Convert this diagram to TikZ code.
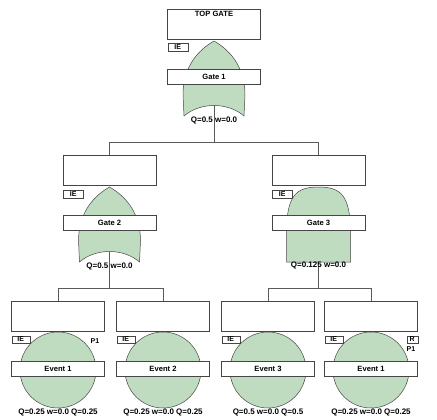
\documentclass[tikz,border=0pt]{standalone}
\usepackage{fontspec}
\setmainfont{Liberation Sans}
\definecolor{gfill}{HTML}{C0DCC0}
\definecolor{lcol}{HTML}{454545}
\begin{document}
\begin{tikzpicture}[x=1pt,y=-1pt,
  descbox/.style={draw=lcol, fill=white, line width=0.6pt, minimum width=93pt, minimum height=30pt, inner sep=0pt, anchor=north},
  labbox/.style={draw=lcol, fill=white, line width=0.6pt, minimum width=93pt, minimum height=15pt, inner sep=0pt, anchor=north, font=\fontsize{7.6}{9}\selectfont\bfseries},
  iebox/.style={draw=lcol, fill=white, line width=0.5pt, minimum width=20pt, minimum height=8pt, inner sep=0pt, anchor=north west, font=\fontsize{7}{7}\selectfont\bfseries},
  qlab/.style={font=\fontsize{8}{9}\selectfont\bfseries, inner sep=0pt},
  small/.style={font=\fontsize{7}{7}\selectfont\bfseries, inner sep=0pt},
  conn/.style={draw=black!65, line width=0.9pt},
  gshape/.style={fill=gfill, draw=lcol, line width=0.5pt},
  orgate/.pic={\path[gshape] (0,32) .. controls (-14,40) and (-31,56) .. (-31,86) -- (-30,107) .. controls (-14,93) and (14,93) .. (30,107) -- (31,86) .. controls (31,56) and (14,40) .. (0,32) -- cycle;},
  andgate/.pic={\path[gshape] (-32,107) -- (-32,78) .. controls (-32,40) and (-22,32) .. (0,32) .. controls (22,32) and (32,40) .. (32,78) -- (32,107) -- cycle;}
]
\useasboundingbox (0,0) rectangle (437,420);

% ---- top gate ----
\pic at (214,9) {orgate};
\node[descbox] (d1) at (214,9) {};
\node[font=\fontsize{7.6}{9}\selectfont\bfseries, anchor=north, inner sep=0pt] (t1) at (214,11) {TOP GATE};
\node[iebox] (ie1) at (167.5,43) {IE};
\node[labbox] (l1) at (214,69) {Gate 1};
\coordinate (g1out) at (214,105.5);

% ---- gate 2 ----
\pic at (109.5,155) {orgate};
\node[descbox] (d2) at (109.5,155) {};
\node[iebox] (ie2) at (63,190) {IE};
\node[labbox] (l2) at (109.5,215) {Gate 2};
\coordinate (g2out) at (109.5,251.5);

% ---- gate 3 ----
\pic at (318.5,155) {andgate};
\node[descbox] (d3) at (318.5,155) {};
\node[iebox] (ie3) at (272,190) {IE};
\node[labbox] (l3) at (318.5,215) {Gate 3};
\coordinate (g3out) at (318.5,262);

% ---- events ----
\foreach \cx/\nm/\lab in {58/e1/Event 1, 163/e2/Event 2, 268/e3/Event 3, 371/e4/Event 1}{
  \draw[gshape] (\cx,370) circle[radius=38pt];
  \node[descbox] (\nm) at (\cx,301) {};
  \node[iebox, minimum width=18pt, minimum height=7.5pt] (\nm ie) at (\cx-46.5,335.5) {IE};
  \node[labbox] (\nm l) at (\cx,361) {\lab};
}
\node[small] (p1a) at (95,341) {P1};
\node[iebox, minimum width=11pt, minimum height=7.5pt] (r4) at (406.5,335.5) {R};
\node[small] (p1b) at (411,349.5) {P1};

% ---- connectors ----
\coordinate (j1) at (214,142);
\coordinate (j2) at (109.5,288);
\coordinate (j3) at (318.5,288);
\draw[conn] (g1out) -- (j1);
\draw[conn] (j1) -| (d2.north);
\draw[conn] (j1) -| (d3.north);
\draw[conn] (g2out) -- (j2);
\draw[conn] (j2) -| (e1.north);
\draw[conn] (j2) -| (e2.north);
\draw[conn] (g3out) -- (j3);
\draw[conn] (j3) -| (e3.north);
\draw[conn] (j3) -| (e4.north);

% ---- probability labels ----
\node[qlab] (q1) at (214,120) {Q=0.5 w=0.0};
\node[qlab] (q2) at (109.5,266) {Q=0.5 w=0.0};
\node[qlab] (q3) at (318.5,265) {Q=0.125 w=0.0};
\node[qlab] (qe1) at (58,412) {Q=0.25 w=0.0 Q=0.25};
\node[qlab] (qe2) at (163,412) {Q=0.25 w=0.0 Q=0.25};
\node[qlab] (qe3) at (268,412) {Q=0.5 w=0.0 Q=0.5};
\node[qlab] (qe4) at (371,412) {Q=0.25 w=0.0 Q=0.25};
\end{tikzpicture}
\end{document}
